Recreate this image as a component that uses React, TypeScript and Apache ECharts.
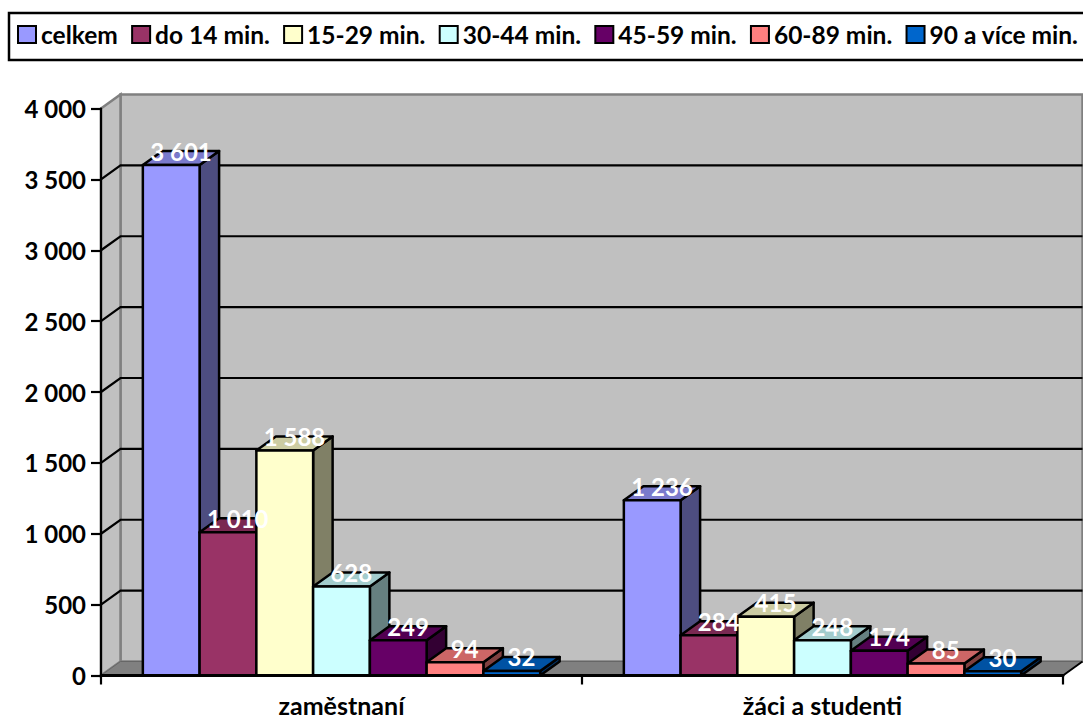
import React, { useEffect, useRef } from "react";
import * as echarts from "echarts";

const categories = ["zaměstnaní", "žáci a studenti"];
const seriesNames = ["celkem", "do 14 min.", "15-29 min.", "30-44 min.", "45-59 min.", "60-89 min.", "90 a více min."];
const celkem = [3601, 1236];
const do14 = [1010, 284];
const m15 = [1588, 415];
const m30 = [628, 248];
const m45 = [249, 174];
const m60 = [94, 85];
const m90 = [32, 30];
const seriesValues = [celkem, do14, m15, m30, m45, m60, m90];
const colors = ["#9999FF", "#993366", "#FFFFCC", "#CCFFFF", "#660066", "#FF8080", "#0066CC"];
const gridTicks = [500, 1000, 1500, 2000, 2500, 3000, 3500];

const FONT = "Lato, Carlito, Calibri, sans-serif";
const DX = 19.5;
const DY = 14;

const fmt = (v: number) => String(v).replace(/\B(?=(\d{3})+$)/g, " ");

function shade(hex: string, k: number) {
  const n = parseInt(hex.slice(1), 16);
  const c = [(n >> 16) & 255, (n >> 8) & 255, n & 255].map((x) => Math.round(x * k));
  return `rgb(${c[0]},${c[1]},${c[2]})`;
}

export default function App() {
  const ref = useRef<HTMLDivElement>(null);
  useEffect(() => {
    const chart = echarts.init(ref.current!, undefined, { renderer: "svg" });

    const wallSeries = {
      type: "custom",
      silent: true,
      z: 1,
      clip: false,
      data: [[0]],
      encode: { x: -1, y: -1 },
      renderItem: (params: any) => {
        const g = params.coordSys;
        const l = g.x, r = g.x + g.width, t = g.y, b = g.y + g.height;
        const grey = { stroke: "#808080", lineWidth: 2.5 };
        return {
          type: "group",
          children: [
            { type: "polygon", shape: { points: [[l + DX, t - DY], [r + DX, t - DY], [r + DX, b - DY], [l + DX, b - DY]] }, style: { fill: "#C0C0C0", ...grey } },
            { type: "polygon", shape: { points: [[l, t], [l + DX, t - DY], [l + DX, b - DY], [l, b]] }, style: { fill: "#C0C0C0", ...grey } },
            { type: "polygon", shape: { points: [[l, b], [l + DX, b - DY], [r + DX, b - DY], [r, b]] }, style: { fill: "#808080", stroke: "#666666", lineWidth: 1 } },
            { type: "line", shape: { x1: r, y1: b, x2: r + DX, y2: b - DY }, style: { stroke: "#000", lineWidth: 2 } },
          ],
        };
      },
    };

    const gridSeries = {
      type: "custom",
      silent: true,
      z: 2,
      clip: false,
      data: gridTicks.map((v) => [0, v]),
      encode: { x: 0, y: 1 },
      renderItem: (params: any, api: any) => {
        const g = params.coordSys;
        const y = api.coord([0, api.value(1)])[1];
        return {
          type: "polyline",
          shape: { points: [[g.x, y], [g.x + DX, y - DY], [g.x + g.width + DX, y - DY]] },
          style: { fill: "none", stroke: "#000", lineWidth: 2.2 },
        };
      },
    };

    const barSeries = seriesNames.map((name, i) => ({
      type: "custom",
      name,
      silent: true,
      z: 3,
      clip: false,
      itemStyle: { color: colors[i], borderColor: "#000", borderWidth: 2.5 },
      data: seriesValues[i].map((v, c) => [c, v]),
      encode: { x: 0, y: 1 },
      renderItem: (_: any, api: any) => {
        const band = api.size([1, 0])[0];
        const w = band * 0.118;
        const [cx, top] = api.coord([api.value(0), api.value(1)]);
        const base = api.coord([api.value(0), 0])[1];
        const x0 = cx + (i - 3.5) * w;
        const x1 = x0 + w;
        const edge = { stroke: "#000", lineWidth: 2.5, lineJoin: "round" };
        return {
          type: "group",
          children: [
            { type: "polygon", shape: { points: [[x1, top], [x1 + DX, top - DY], [x1 + DX, base - DY], [x1, base]] }, style: { fill: shade(colors[i], 0.5), ...edge } },
            { type: "polygon", shape: { points: [[x0, top], [x0 + DX, top - DY], [x1 + DX, top - DY], [x1, top]] }, style: { fill: shade(colors[i], 0.8), ...edge } },
            { type: "polygon", shape: { points: [[x0, top], [x1, top], [x1, base], [x0, base]] }, style: { fill: colors[i], ...edge } },
            {
              type: "text",
              z2: 100,
              x: (x0 + x1) / 2 + DX / 2,
              y: top - DY,
              style: { text: fmt(api.value(1)), fill: "#FFFFFF", font: `bold 24px ${FONT}`, textAlign: "center", textVerticalAlign: "middle" },
            },
          ],
        };
      },
    }));

    chart.setOption({
      animation: false,
      backgroundColor: "#FFFFFF",
      legend: {
        left: 9,
        top: 13,
        width: 1300,
        padding: [9, 14, 13, 8],
        itemGap: 13.3,
        itemWidth: 18,
        itemHeight: 17,
        icon: "rect",
        borderColor: "#000",
        borderWidth: 2.5,
        data: seriesNames,
        textStyle: { fontFamily: FONT, fontWeight: "bold", fontSize: 24.5, color: "#000" },
      },
      grid: { left: 101, right: 20, top: 108.5, bottom: 42.5 },
      xAxis: {
        type: "category",
        data: categories,
        z: 5,
        axisLine: { lineStyle: { color: "#000", width: 3 } },
        axisTick: { show: true, alignWithLabel: false, length: 9, lineStyle: { color: "#000", width: 2.2 } },
        axisLabel: { fontFamily: FONT, fontWeight: "bold", fontSize: 25, lineHeight: 24, color: "#000", margin: 17 },
      },
      yAxis: {
        type: "value",
        min: 0,
        max: 4000,
        interval: 500,
        z: 5,
        splitLine: { show: false },
        axisLine: { show: true, lineStyle: { color: "#000", width: 2.2 } },
        axisTick: { show: true, length: 10, lineStyle: { color: "#000", width: 2.2 } },
        axisLabel: { fontFamily: FONT, fontWeight: "bold", fontSize: 24, color: "#000", margin: 15, formatter: (v: number) => fmt(v) },
      },
      series: [wallSeries, gridSeries, ...barSeries],
    });
    return () => chart.dispose();
  }, []);
  return <div ref={ref} style={{ position: "fixed", left: 0, top: 0, width: 1083, height: 718 }} />;
}
